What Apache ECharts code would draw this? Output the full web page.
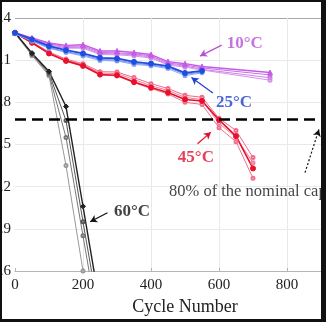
<!DOCTYPE html>
<html>
<head>
<meta charset="utf-8">
<script src="https://cdn.jsdelivr.net/npm/echarts@6/dist/echarts.min.js"></script>
<style>
html,body{margin:0;padding:0;background:#111;width:326px;height:322px;overflow:hidden;}
#c{position:absolute;left:2px;top:2px;width:319px;height:317px;background:#fff;}
</style>
</head>
<body>
<div id="c"></div>
<script>
// ---- data ----
const cycles10 = [0,50,100,150,200,250,300,350,400,450,500,550,750];
const cap10_a = [3.295,3.258,3.222,3.205,3.210,3.165,3.165,3.155,3.140,3.090,3.075,3.055,3.012];
const cap10_b = [3.292,3.252,3.215,3.198,3.200,3.155,3.152,3.145,3.130,3.080,3.065,3.045,2.995];
const cap10_c = [3.290,3.248,3.208,3.190,3.192,3.148,3.145,3.138,3.122,3.072,3.058,3.035,2.975];
const cap10_d = [3.288,3.244,3.200,3.185,3.185,3.140,3.138,3.130,3.115,3.065,3.050,3.030,2.958];

const cycles25 = [0,50,100,150,200,250,300,350,400,450,500,550];
const cap25_a = [3.295,3.248,3.200,3.171,3.148,3.117,3.112,3.088,3.076,3.057,3.009,3.024];
const cap25_b = [3.290,3.240,3.190,3.160,3.138,3.105,3.100,3.078,3.066,3.048,3.000,3.015];
const cap25_c = [3.288,3.235,3.185,3.155,3.130,3.098,3.094,3.070,3.060,3.040,2.990,3.010];

const cycles45 = [0,50,100,150,200,250,300,350,400,450,500,550,600,650,700];
const cap45_a = [3.295,3.224,3.148,3.095,3.060,2.998,2.993,2.945,2.905,2.870,2.820,2.810,2.675,2.560,2.330];
const cap45_b = [3.295,3.230,3.158,3.108,3.075,3.018,3.016,2.976,2.933,2.898,2.850,2.836,2.686,2.600,2.407];
const cap45_c = [3.293,3.227,3.153,3.102,3.068,3.008,3.005,2.962,2.918,2.885,2.835,2.820,2.650,2.550,2.370];
const cap45_d = [3.292,3.222,3.145,3.092,3.056,2.994,2.988,2.940,2.898,2.860,2.800,2.785,2.620,2.520,2.260];

const cycles60 = [0,50,100,150,200,250];
const cap60_a = [3.295,3.150,3.020,2.770,2.060,1.350];
const cap60_b = [3.295,3.145,3.010,2.670,1.950,1.250];
const cap60_c = [3.293,3.140,3.000,2.550,1.850,1.150];
const cap60_d = [3.290,3.132,2.990,2.350,1.600,0.900];

const nominal80 = 2.68;

const annoTexts = ['10°C','25°C','45°C','60°C','80% of the nominal capacity'];
const annoPos = [[623,3.221],[591,2.800],[479,2.407],[291,2.021],[453,2.164]];
const arrowFrom = [[608,3.207],[582,2.866],[537,2.505],[272,2.014],[853,2.300]];
const arrowTo   = [[544,3.129],[519,2.976],[576,2.588],[221,1.950],[894,2.607]];
const annoColors = ['#b94fd8','#1f3fd0','#e0102a','#111111','#111111'];

// ---- chart ----
const zip = (xs, ys) => xs.map((x,i)=>[x, ys[i]]);
const FONT = '"Liberation Serif", "DejaVu Serif", serif';

function line(name, xs, ys, color, width, symbol, size, z){
  return {
    name, type:'line', data: zip(xs, ys), clip:true,
    symbol, symbolSize:size, showSymbol:true,
    lineStyle:{color, width},
    itemStyle:{color, borderColor:color, borderWidth:1},
    z: z || 2, silent:true
  };
}

const series = [
  line('60d', cycles60, cap60_d, '#999', 1, 'emptyCircle', 3, 2),
  line('60c', cycles60, cap60_c, '#777', 1, 'emptyCircle', 3, 2),
  line('60b', cycles60, cap60_b, '#555', 1, 'emptyCircle', 3, 2),
  line('60a', cycles60, cap60_a, '#222', 1.4, 'diamond', 5, 2),

  line('45d', cycles45, cap45_d, '#f07090', 1, 'emptyCircle', 3, 3),
  line('45c', cycles45, cap45_c, '#f0809c', 1, 'emptyCircle', 3, 3),
  line('45b', cycles45, cap45_b, '#f06a8a', 1, 'emptyCircle', 3, 3),
  line('45a', cycles45, cap45_a, '#e8102a', 1.6, 'circle', 5, 3),

  line('10d', cycles10, cap10_d, '#d493ec', 1, 'emptyCircle', 3, 4),
  line('10c', cycles10, cap10_c, '#cf84ea', 1, 'emptyCircle', 3, 4),
  line('10b', cycles10, cap10_b, '#c86ee6', 1, 'triangle', 4, 4),
  line('10a', cycles10, cap10_a, '#c45ae6', 1.4, 'triangle', 5, 4),

  line('25c', cycles25, cap25_c, '#8ea6f4', 1, 'emptyCircle', 3, 5),
  line('25b', cycles25, cap25_b, '#6f8ef0', 1, 'emptyCircle', 3, 5),
  line('25a', cycles25, cap25_a, '#1f4de0', 1.8, 'circle', 5, 5),
];

const annoData = annoTexts.map((t,i)=>{
  const big = i < 4;
  return {
    value: annoPos[i],
    label:{
      show:true, position:'right', distance:0,
      formatter: t, color: annoColors[i],
      fontFamily: FONT, fontSize: big ? 17 : 16.5,
      fontWeight: big ? 'bold' : 'normal'
    }
  };
});

const arrowData = arrowFrom.map((f,i)=>[
  {coord:f, lineStyle:{color:annoColors[i], width:1.2, type: i===4 ? [2,2] : 'solid'}},
  {coord:arrowTo[i]}
]);

series.push({
  name:'anno', type:'scatter', data: annoData, symbolSize:0, z:10, silent:true,
  markLine:{
    silent:true, symbol:['none','arrow'], symbolSize:[6,7],
    label:{show:false},
    data: arrowData
  }
});
series.push({
  name:'limit', type:'scatter', data: [], z:9, silent:true,
  markLine:{
    silent:true, symbol:['none','none'],
    label:{show:false},
    lineStyle:{color:'#000', width:2.5, type:[11,6]},
    data: [{yAxis: nominal80}]
  }
});

const chart = echarts.init(document.getElementById('c'), null, {renderer:'canvas'});
chart.setOption({
  animation:false,
  backgroundColor:'#fff',
  grid:{left:13, top:16, bottom:48, width:340, containLabel:false, outerBoundsMode:'none'},
  xAxis:{
    type:'value', min:0, max:1000, interval:200,
    name:'Cycle Number', nameLocation:'middle', nameGap:25,
    nameTextStyle:{fontFamily:FONT, fontSize:18, color:'#222'},
    axisLine:{show:true, lineStyle:{color:'#b5b5b5', width:1}},
    axisTick:{show:true, inside:true, length:3, lineStyle:{color:'#b5b5b5'}},
    axisLabel:{fontFamily:FONT, fontSize:15, color:'#222', margin:7, formatter:v=>String(v)},
    splitLine:{show:true, lineStyle:{color:['rgba(0,0,0,0)','#e9e9e9','#e9e9e9','#e9e9e9','#e9e9e9','#e9e9e9'], width:1}}
  },
  yAxis:{
    type:'value', min:1.6, max:3.4, interval:0.3,
    axisLine:{show:false}, axisTick:{show:false},
    axisLabel:{fontFamily:FONT, fontSize:15, color:'#222', margin:4,
      formatter:v=>v.toFixed(1)},
    splitLine:{show:true, lineStyle:{color:['#e9e9e9','#e9e9e9','#e9e9e9','#e9e9e9','#e9e9e9','#e9e9e9','#a8a8a8'], width:1}}
  },
  series
});
</script>
</body>
</html>
